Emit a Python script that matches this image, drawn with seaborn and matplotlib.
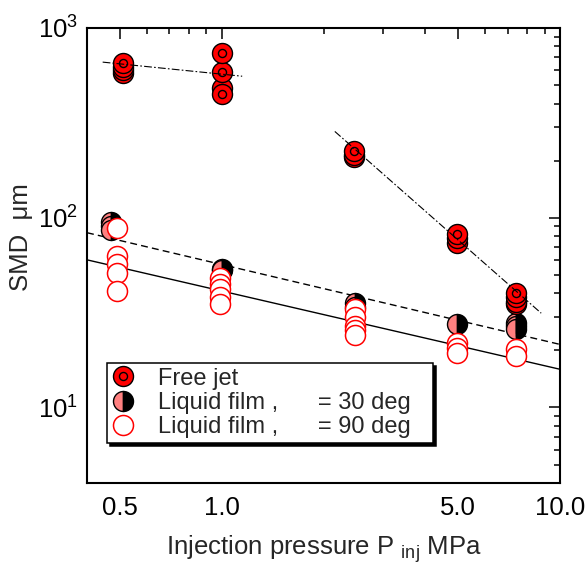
"""
SMD vs injection pressure -- free jet and liquid film atomisation
"""

import matplotlib
matplotlib.use("Agg")
import matplotlib.pyplot as plt
from matplotlib.lines import Line2D
from matplotlib.legend_handler import HandlerTuple
from matplotlib.ticker import FixedLocator, FixedFormatter, NullFormatter
import seaborn as sns

# ── Data ────────────────────────────────────────────────────
# Free jet
jet_p   = [0.51, 0.51, 0.51, 0.51, 1.0, 1.0, 1.0, 1.0,
           2.46, 2.46, 2.46, 4.95, 4.95, 4.95, 7.4, 7.4, 7.4, 7.4]
jet_smd = [580, 600, 620, 650, 480, 450, 585, 735,
           210, 215, 226, 74, 78, 82, 35, 36, 38, 40]

# Liquid film, 30 deg
f30_p   = [0.47, 0.47, 0.47, 1.0, 1.0, 2.47, 2.47, 4.95, 7.4, 7.4, 7.4]
f30_smd = [95, 90, 86, 54, 53, 35.5, 34, 27.5, 28, 27, 26]

# Liquid film, 90 deg
f90_p   = [0.49, 0.49, 0.49, 0.49, 0.49, 0.99, 0.99, 0.99, 0.99, 0.99,
           2.47, 2.47, 2.47, 2.47, 2.47, 4.95, 4.95, 4.95, 7.4, 7.4]
f90_smd = [88, 63, 57, 51, 41, 48, 45, 42, 38, 35,
           33, 30, 27, 25.5, 24, 22, 20.5, 19.3, 20.3, 18.7]

# Fit lines (end points)
jet_lo_p,  jet_lo_smd  = [0.445, 1.15], [661, 557]
jet_hi_p,  jet_hi_smd  = [2.16, 8.8],   [285, 31.4]
fit30_p,   fit30_smd   = [0.4, 10.0],   [83.4, 21.5]
fit90_p,   fit90_smd   = [0.4, 10.0],   [60.0, 15.9]

x_major  = [0.5, 1.0, 5.0, 10.0]
x_labels = ["0.5", "1.0", "5.0", "10.0"]
x_minor  = [0.6, 0.7, 0.8, 0.9, 2, 3, 4, 6, 7, 8, 9]

labels = ["Free jet",
          "Liquid film ,      = 30 deg",
          "Liquid film ,      = 90 deg"]

RED  = "#ff0000"
PINK = "#ff8080"
FS   = 18.5          # axis text
FS_L = 17            # legend text
MS   = 14.4          # marker diameter, pt

sns.set_style("white")
plt.rcParams["font.family"] = ["Liberation Sans", "DejaVu Sans"]
plt.rcParams["mathtext.fontset"] = "custom"
plt.rcParams["mathtext.rm"] = "Liberation Sans"
plt.rcParams["mathtext.it"] = "Liberation Sans:italic"

fig = plt.figure(figsize=(5.87, 5.66), dpi=100)
ax = fig.add_axes([87 / 587, 1 - 483 / 566, 473 / 587, 455 / 566])
ax.set_xscale("log")
ax.set_yscale("log")

# ── Fit lines ───────────────────────────────────────────────
sns.lineplot(x=fit90_p, y=fit90_smd, estimator=None, sort=False, color="k",
             lw=1.0, ax=ax, zorder=1)
sns.lineplot(x=fit30_p, y=fit30_smd, estimator=None, sort=False, color="k",
             lw=1.0, ax=ax, zorder=1, linestyle=(0, (5, 3)))

# ── Liquid film 30 deg: half filled ─────────────────────────
sns.lineplot(x=f30_p, y=f30_smd, estimator=None, sort=False, linestyle="",
             marker="o", markersize=MS, fillstyle="left",
             markerfacecolor=PINK, markerfacecoloralt="k",
             markeredgecolor="k", markeredgewidth=1.0, color="k",
             ax=ax, zorder=3)

# ── Liquid film 90 deg: open red ────────────────────────────
sns.scatterplot(x=f90_p, y=f90_smd, s=MS ** 2, color="white",
                edgecolor=RED, linewidth=1.1, ax=ax, zorder=4)

# ── Free jet: red target markers, one at a time ─────────────
for p, d in zip(jet_p, jet_smd):
    sns.scatterplot(x=[p], y=[d], s=MS ** 2, color=RED, edgecolor="k",
                    linewidth=1.0, ax=ax, zorder=4)
    sns.scatterplot(x=[p], y=[d], s=5.8 ** 2, color=RED, edgecolor="k",
                    linewidth=1.0, ax=ax, zorder=4)

sns.lineplot(x=jet_lo_p, y=jet_lo_smd, estimator=None, sort=False, color="k",
             lw=0.8, ax=ax, zorder=5, linestyle=(0, (7, 2, 1.5, 2)))
sns.lineplot(x=jet_hi_p, y=jet_hi_smd, estimator=None, sort=False, color="k",
             lw=0.8, ax=ax, zorder=5, linestyle=(0, (7, 2, 1.5, 2)))

# ── Axes ────────────────────────────────────────────────────
ax.set_xlim(0.4, 10)
ax.set_ylim(4, 1000)
ax.xaxis.set_major_locator(FixedLocator(x_major))
ax.xaxis.set_major_formatter(FixedFormatter(x_labels))
ax.xaxis.set_minor_locator(FixedLocator(x_minor))
ax.xaxis.set_minor_formatter(NullFormatter())
ax.yaxis.set_minor_formatter(NullFormatter())

ax.tick_params(which="both", direction="in", top=True, right=True,
               width=1.1, colors="k", labelsize=FS)
ax.tick_params(which="major", length=8)
ax.tick_params(which="minor", length=4)
ax.tick_params(axis="x", which="major", pad=9.5)
ax.tick_params(axis="y", which="major", pad=6.5)
for s in ax.spines.values():
    s.set_linewidth(1.5)
    s.set_color("k")

ax.set_xlabel(r"Injection pressure P $_{\mathrm{inj}}$ MPa", fontsize=FS)
ax.set_ylabel("SMD  μm", fontsize=FS)
ax.xaxis.set_label_coords(0.5, -0.11)
ax.yaxis.set_label_coords(-0.114, 0.541)

# ── Legend ──────────────────────────────────────────────────
h_jet = (Line2D([], [], ls="", marker="o", ms=MS, mfc=RED, mec="k", mew=1.0),
         Line2D([], [], ls="", marker="o", ms=5.8, mfc=RED, mec="k", mew=1.0))
h_30 = Line2D([], [], ls="", marker="o", ms=MS, fillstyle="left", mfc=PINK,
              mfcalt="k", mec="k", mew=1.0)
h_90 = Line2D([], [], ls="", marker="o", ms=MS, mfc="white", mec=RED, mew=1.1)

leg = ax.legend([h_jet, h_30, h_90], labels,
                handler_map={tuple: HandlerTuple(ndivide=1, pad=0)},
                loc="upper left", bbox_to_anchor=(0.042, 0.0, 0.689, 0.264),
                mode="expand", borderaxespad=0, fontsize=FS_L, frameon=True,
                fancybox=False, shadow={"color": "black", "alpha": 1},
                borderpad=0.2, labelspacing=0.1, handlelength=1.0,
                handletextpad=0.95)
leg.get_frame().set_edgecolor("k")
leg.get_frame().set_linewidth(1.1)
leg.get_frame().set_alpha(1)

plt.savefig("out.png", dpi=100)
